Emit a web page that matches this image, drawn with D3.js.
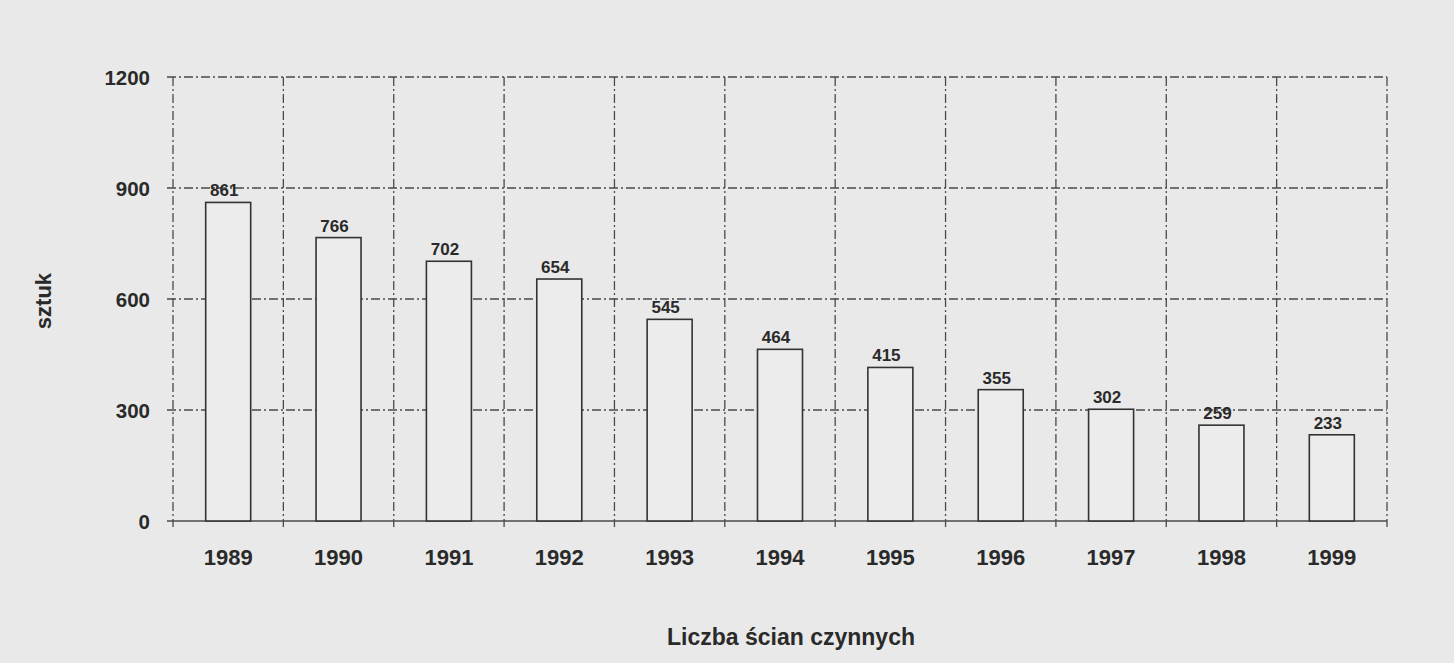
<!DOCTYPE html>
<html><head><meta charset="utf-8">
<script src="https://cdn.jsdelivr.net/npm/d3@7"></script>
<style>
html,body{margin:0;padding:0;background:#e9e9e9;}
svg{display:block;}
text{font-family:"Liberation Sans",Arial,sans-serif;font-weight:bold;fill:#2a2a2a;}
</style></head>
<body>
<svg id="chart" width="1454" height="663"></svg>
<script>
const categories = ["1989","1990","1991","1992","1993","1994","1995","1996","1997","1998","1999"];
const values = [861, 766, 702, 654, 545, 464, 415, 355, 302, 259, 233];
const yTicks = [0, 300, 600, 900, 1200];
const yTitle = "sztuk";
const xTitle = "Liczba ścian czynnych";

const W = 1454, H = 663;
const m = {left: 173, right: 67, top: 77, bottom: 142};
const svg = d3.select("#chart");
svg.append("rect").attr("width", W).attr("height", H).attr("fill", "#e9e9e9");

const x = d3.scaleBand().domain(categories).range([m.left, W - m.right]).paddingInner(0).paddingOuter(0);
const y = d3.scaleLinear().domain([0, 1200]).range([H - m.bottom, m.top]);

const g = svg.append("g");
const dash = "9,3,2,3";

// horizontal gridlines
g.selectAll(".hg").data(yTicks).enter().append("line")
  .attr("x1", m.left - 6).attr("x2", W - m.right)
  .attr("y1", d => y(d)).attr("y2", d => y(d))
  .attr("stroke", "#4a4a4a").attr("stroke-width", 1.3)
  .attr("stroke-dasharray", d => d === 0 ? null : dash);

// vertical gridlines at category boundaries
const bounds = categories.map(c => x(c)).concat([x(categories[categories.length-1]) + x.bandwidth()]);
g.selectAll(".vg").data(bounds).enter().append("line")
  .attr("x1", d => d).attr("x2", d => d)
  .attr("y1", y(1200)).attr("y2", y(0) + 6)
  .attr("stroke", "#4a4a4a").attr("stroke-width", 1.3)
  .attr("stroke-dasharray", dash);

// bars
const bw = 45;
g.selectAll(".bar").data(values).enter().append("rect")
  .attr("x", (d, i) => x(categories[i]) + x.bandwidth() / 2 - bw / 2)
  .attr("y", d => y(d))
  .attr("width", bw)
  .attr("height", d => y(0) - y(d))
  .attr("fill", "#ececec").attr("stroke", "#333").attr("stroke-width", 1.6);

// value labels
g.selectAll(".vl").data(values).enter().append("text")
  .attr("x", (d, i) => x(categories[i]) + x.bandwidth() / 2 - 4)
  .attr("y", d => y(d) - 6)
  .attr("text-anchor", "middle").attr("font-size", 17)
  .text(d => d);

const ff = '"Liberation Sans",Arial,sans-serif';
// y axis
const yAxis = d3.axisLeft(y).tickValues(yTicks).tickFormat(d3.format("d")).tickSize(0).tickPadding(0);
const ya = svg.append("g").attr("transform", `translate(150,0)`).call(yAxis);
ya.select(".domain").remove();
ya.selectAll("text").attr("font-size", 20.5).attr("dy", "0.36em").attr("fill", "#2a2a2a")
  .style("font-family", ff).style("font-weight", "bold");

// x axis
const xAxis = d3.axisBottom(x).tickSize(0).tickPadding(0);
const xa = svg.append("g").attr("transform", `translate(0,${y(0) + 36})`).call(xAxis);
xa.select(".domain").remove();
xa.selectAll("text").attr("font-size", 22).attr("dy", "0.36em").attr("fill", "#2a2a2a")
  .style("font-family", ff).style("font-weight", "bold");

// titles
svg.append("text").attr("transform", "translate(51,301) rotate(-90)")
  .attr("text-anchor", "middle").attr("font-size", 22).text(yTitle);
svg.append("text").attr("x", 791).attr("y", 645)
  .attr("text-anchor", "middle").attr("font-size", 23).text(xTitle);
</script>
</body></html>
